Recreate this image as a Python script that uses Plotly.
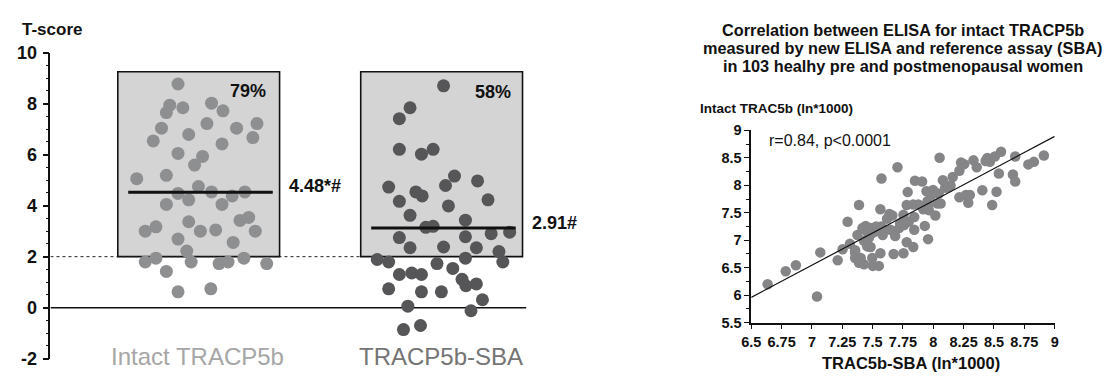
import plotly.graph_objects as go

# ---------------- data ----------------
categories = ["Intact TRACP5b", "TRACP5b-SBA"]

intact_jitter = [-0.085, -0.119, -0.133, -0.065, 0.053, 0.100, 0.034, -0.153, -0.187, -0.041,
                 0.156, 0.240, 0.223, 0.096, -0.085, 0.016, -0.017, -0.255, -0.133, -0.001,
                 -0.085, -0.041, 0.053, 0.138, 0.190, 0.096, -0.133, -0.041, -0.220, -0.176,
                 0.007, 0.070, 0.170, 0.206, 0.233, -0.085, 0.142, -0.049, -0.220, -0.176,
                 -0.031, 0.084, 0.121, 0.186, 0.280, -0.133, -0.085, 0.050]
intact_tscore = [8.77, 7.94, 7.65, 7.84, 8.02, 7.72, 7.22, 7.04, 6.54, 6.79,
                 7.04, 7.22, 6.67, 6.42, 6.05, 5.93, 5.59, 5.06, 5.19, 4.75,
                 4.48, 4.23, 4.54, 4.38, 4.54, 4.05, 4.05, 3.37, 3.00, 3.17,
                 3.00, 3.05, 3.42, 3.54, 3.00, 2.69, 2.56, 2.22, 1.79, 1.94,
                 1.79, 1.73, 1.79, 1.94, 1.73, 1.42, 0.62, 0.74]

sba_jitter = [0.008, -0.130, -0.174, -0.174, -0.083, -0.035, 0.053, 0.016, 0.148, -0.218,
              -0.106, -0.080, -0.174, 0.191, 0.028, -0.130, 0.098, -0.065, -0.035, 0.098,
              0.204, 0.280, -0.174, -0.130, 0.008, 0.143, 0.236, -0.265, -0.218, -0.019,
              0.098, 0.252, 0.046, -0.174, -0.123, -0.083, 0.084, 0.100, 0.143, -0.218,
              -0.083, -0.001, 0.168, -0.139, 0.121, -0.157, -0.087]
sba_tscore = [8.70, 7.84, 7.41, 6.21, 6.02, 6.21, 5.16, 4.79, 4.97, 4.73,
              4.54, 4.38, 4.17, 4.23, 3.99, 3.62, 3.43, 3.15, 3.19, 2.78,
              2.90, 2.96, 2.75, 2.35, 2.38, 2.35, 2.20, 1.89, 1.79, 1.73,
              1.94, 1.79, 1.54, 1.30, 1.36, 1.30, 1.11, 0.86, 0.93, 0.74,
              0.62, 0.62, 0.31, 0.06, -0.12, -0.86, -0.70]

mean_values = [4.53, 3.12]
mean_labels = ["4.48*#", "2.91#"]
pct_labels = ["79%", "58%"]
threshold = 2

sba_ln = [6.635, 6.784, 6.868, 7.042, 7.069, 7.212, 7.253, 7.294, 7.313, 7.356,
          7.356, 7.388, 7.375, 7.402, 7.429, 7.429, 7.443, 7.456, 7.483, 7.502,
          7.470, 7.483, 7.497, 7.502, 7.551, 7.529, 7.573, 7.564, 7.564, 7.573,
          7.592, 7.583, 7.638, 7.619, 7.646, 7.686, 7.673, 7.705, 7.727, 7.754,
          7.759, 7.754, 7.789, 7.781, 7.781, 7.835, 7.843, 7.843, 7.849, 7.835,
          7.876, 7.908, 7.917, 7.930, 7.944, 7.952, 7.957, 7.963, 7.998, 8.017,
          8.033, 8.044, 8.052, 8.060, 8.079, 8.098, 8.125, 8.160, 8.215, 8.215,
          8.229, 8.255, 8.269, 8.288, 8.301, 8.331, 8.358, 8.404, 8.431, 8.445,
          8.466, 8.485, 8.507, 8.521, 8.540, 8.558, 8.656, 8.675, 8.675, 8.783,
          8.829, 8.911, 7.524, 7.456, 7.416, 7.719, 7.662, 7.957, 7.984, 8.142,
          7.356, 7.388, 7.797]
intact_ln = [6.200, 6.435, 6.544, 5.976, 6.779, 6.636, 6.837, 7.336, 6.934, 6.774,
             6.676, 7.640, 7.095, 6.676, 6.561, 6.992, 7.261, 6.888, 7.221, 7.135,
             7.049, 6.877, 6.676, 6.533, 6.533, 7.250, 7.250, 7.565, 6.762, 8.122,
             7.192, 7.095, 7.479, 7.393, 7.192, 7.078, 6.751, 8.328, 7.307, 7.462,
             7.279, 6.762, 7.876, 7.640, 6.963, 6.877, 7.422, 7.192, 8.082, 7.651,
             7.651, 8.070, 7.565, 7.261, 7.893, 7.709, 7.020, 7.548, 7.916, 7.450,
             7.669, 7.852, 8.500, 7.669, 8.093, 7.956, 7.967, 8.150, 8.265, 7.783,
             8.414, 8.385, 7.824, 7.680, 7.824, 8.454, 8.328, 7.910, 8.443, 8.495,
             8.426, 7.640, 8.523, 7.881, 8.214, 8.610, 8.197, 8.523, 8.070, 8.380,
             8.426, 8.541, 7.164, 7.152, 7.221, 7.221, 7.450, 7.634, 7.824, 7.996,
             6.819, 6.590, 7.336]

fit_x = [6.5, 9.0]
fit_y = [5.96, 8.89]
corr_text = "r=0.84, p<0.0001"

left_yticks = [-2, 0, 2, 4, 6, 8, 10]
right_xticks = [6.5, 6.75, 7, 7.25, 7.5, 7.75, 8, 8.25, 8.5, 8.75, 9]
right_yticks = [5.5, 6, 6.5, 7, 7.5, 8, 8.5, 9]

# ---------------- figure ----------------
W, H = 1111, 381
FONT = "Liberation Sans"


def px_x(p):
    return p / W


def px_y(p):
    return 1 - p / H


fig = go.Figure()

dot_colors = ["#8e8f91", "#565658"]
label_colors = ["#a6a6a6", "#747474"]
groups = [(intact_jitter, intact_tscore), (sba_jitter, sba_tscore)]

shapes = []
for i, (jit, vals) in enumerate(groups):
    shapes.append(dict(type="rect", xref="x", yref="y", x0=i - 0.333, x1=i + 0.333,
                       y0=threshold, y1=9.25, fillcolor="#d4d4d4",
                       line=dict(color="#111111", width=1.6), layer="below"))
shapes.append(dict(type="line", xref="x", yref="y", x0=-0.61, x1=0.667, y0=threshold, y1=threshold,
                   line=dict(color="#222222", width=1, dash="dot"), layer="below"))
shapes.append(dict(type="line", xref="x", yref="y", x0=-0.61, x1=1.349, y0=0, y1=0,
                   line=dict(color="#111111", width=1.5), layer="below"))

for i, (jit, vals) in enumerate(groups):
    fig.add_trace(go.Scatter(
        x=[i + j for j in jit], y=vals, mode="markers",
        marker=dict(size=13, color=dot_colors[i], line=dict(width=0)),
        xaxis="x", yaxis="y", showlegend=False, hoverinfo="y"))
    fig.add_trace(go.Scatter(
        x=[i - 0.29, i + 0.305], y=[mean_values[i], mean_values[i]], mode="lines",
        line=dict(color="#111111", width=3), xaxis="x", yaxis="y", showlegend=False,
        hoverinfo="skip"))

fig.add_trace(go.Scatter(
    x=sba_ln, y=intact_ln, mode="markers",
    marker=dict(size=10.5, color="#858587", line=dict(width=0)),
    xaxis="x2", yaxis="y2", showlegend=False))
fig.add_trace(go.Scatter(
    x=fit_x, y=fit_y, mode="lines", line=dict(color="#111111", width=1.2),
    xaxis="x2", yaxis="y2", showlegend=False, hoverinfo="skip"))

annotations = []
annotations.append(dict(text="<b>T-score</b>", x=px_x(10), y=px_y(21), xref="paper", yref="paper",
                        xanchor="left", yanchor="middle", showarrow=False,
                        font=dict(size=17, family=FONT, color="#111111")))
pct_pos = [(px_x(241), px_y(86)), (px_x(489), px_y(87))]
mean_lab_pos = [(px_x(281), px_y(186)), (px_x(527), px_y(225))]
cat_x = [190, 437]
for i in range(2):
    annotations.append(dict(text="<b>%s</b>" % pct_labels[i], x=pct_pos[i][0], y=pct_pos[i][1],
                            xref="paper", yref="paper", xanchor="center", yanchor="middle",
                            showarrow=False, font=dict(size=18, family=FONT, color="#111111")))
    annotations.append(dict(text="<b>%s</b>" % mean_labels[i], x=mean_lab_pos[i][0],
                            y=mean_lab_pos[i][1], xref="paper", yref="paper", xanchor="left",
                            yanchor="middle", showarrow=False,
                            font=dict(size=18, family=FONT, color="#111111")))
    annotations.append(dict(text=categories[i], x=px_x(cat_x[i]), y=0, xref="paper",
                            yref="paper", xanchor="center", yanchor="bottom", showarrow=False,
                            borderpad=0, font=dict(size=24, family=FONT, color=label_colors[i])))

title_lines = ["Correlation between ELISA for intact TRACP5b",
               "measured by new ELISA and reference assay (SBA)",
               "in 103 healhy pre and postmenopausal women"]
for t, yy in zip(title_lines, [21, 40, 59]):
    annotations.append(dict(text="<b>%s</b>" % t, x=px_x(904), y=px_y(yy), xref="paper", yref="paper",
                            xanchor="center", yanchor="middle", showarrow=False,
                            font=dict(size=16.3, family=FONT, color="#111111")))
annotations.append(dict(text="<b>Intact TRAC5b (ln*1000)</b>", x=px_x(697), y=px_y(104),
                        xref="paper", yref="paper", xanchor="left", yanchor="middle", showarrow=False,
                        font=dict(size=13.5, family=FONT, color="#111111")))
annotations.append(dict(text=corr_text, x=px_x(767), y=px_y(138), xref="paper", yref="paper",
                        xanchor="left", yanchor="middle", showarrow=False,
                        font=dict(size=16, family=FONT, color="#111111")))
annotations.append(dict(text="<b>TRAC5b-SBA (ln*1000)</b>", x=px_x(913), y=px_y(373),
                        xref="paper", yref="paper", xanchor="center", yanchor="middle", showarrow=False,
                        font=dict(size=16.5, family=FONT, color="#111111")))

tickfont_left = dict(size=18, family=FONT, color="#111111", weight=700)
tickfont_right = dict(size=14.5, family=FONT, color="#111111", weight=700)

fig.update_layout(
    width=W, height=H, autosize=False,
    margin=dict(l=0, r=0, t=0, b=0, pad=0),
    paper_bgcolor="white", plot_bgcolor="white",
    shapes=shapes, annotations=annotations,
    xaxis=dict(domain=[px_x(41), px_x(523)], range=[-0.61, 1.349], visible=False, fixedrange=True),
    yaxis=dict(domain=[px_y(368), px_y(45)], range=[-2, 10], tickvals=left_yticks,
               ticktext=["<b>%g</b>" % v for v in left_yticks],
               ticks="outside", ticklen=6, tickwidth=1.8, tickcolor="#111111",
               showline=True, linecolor="#111111", linewidth=1.8, showgrid=False, zeroline=False,
               tickfont=tickfont_left, ticklabelstandoff=2,
               minor=dict(dtick=0.5, ticks="outside", ticklen=3, tickwidth=1.3, tickcolor="#111111")),
    xaxis2=dict(domain=[px_x(750.7), px_x(1058)], range=[6.5, 9], anchor="y2", tickvals=right_xticks,
                ticktext=["<b>%g</b>" % v for v in right_xticks],
                ticks="outside", ticklen=5, tickwidth=1.4, tickcolor="#111111",
                showline=True, linecolor="#111111", linewidth=1.5, showgrid=False, zeroline=False,
                tickfont=tickfont_right),
    yaxis2=dict(domain=[px_y(330), px_y(127)], range=[5.5, 9], anchor="x2", tickvals=right_yticks,
                ticktext=["<b>%g</b>" % v for v in right_yticks],
                ticks="outside", ticklen=5, tickwidth=1.4, tickcolor="#111111",
                showline=True, linecolor="#111111", linewidth=1.5, showgrid=False, zeroline=False,
                tickfont=tickfont_right,
                minor=dict(dtick=0.25, ticks="outside", ticklen=3, tickwidth=1.1, tickcolor="#111111")),
)

fig.write_html("out.html")
